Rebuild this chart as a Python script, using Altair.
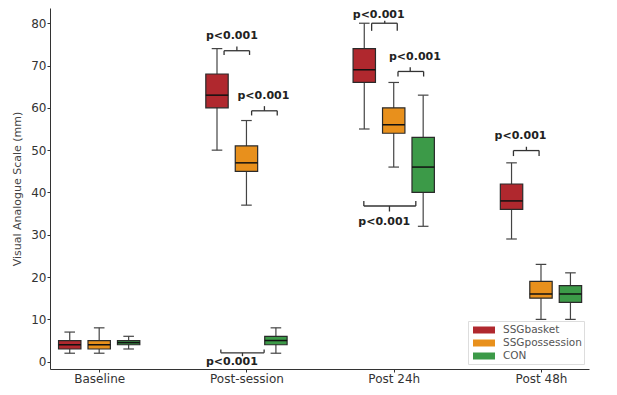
import altair as alt
import pandas as pd

# ---- data ----
timepoints = ["Baseline", "Post-session", "Post 24h", "Post 48h"]
groups = ["SSGbasket", "SSGpossession", "CON"]
colors = ["#B0282E", "#E8901C", "#3C9A48"]

# per group, per timepoint: [whisker low, q1, median, q3, whisker high]
basket = [[2, 3, 4, 5, 7], [50, 60, 63, 68, 74], [55, 66, 69, 74, 80], [29, 36, 38, 42, 47]]
possession = [[2, 3, 4, 5, 8], [37, 45, 47, 51, 57], [46, 54, 56, 60, 66], [10, 15, 16, 19, 23]]
con = [[3, 4, 4.5, 5, 6], [2, 4, 5, 6, 8], [32, 40, 46, 53, 63], [10, 14, 16, 18, 21]]

group_offsets = [-0.2, 0.0, 0.2]

# significance brackets
br_x1 = [0.848, 1.035, 0.826, 1.850, 2.029, 1.797, 2.813]
br_x2 = [1.021, 1.209, 1.120, 2.024, 2.203, 2.150, 2.987]
br_xm = [0.935, 1.122, 0.973, 1.939, 2.112, 1.971, 2.901]
br_y = [73.5, 59.3, 2.1, 80.0, 68.6, 36.8, 49.9]
br_yend = [72.5, 58.2, 2.9, 78.2, 67.4, 38.0, 48.6]
br_ymid = [74.5, 60.4, 1.3, 80.6, 69.6, 35.5, 50.8]
lab_x = [0.901, 1.115, 0.901, 1.898, 2.144, 1.936, 2.861]
lab_y = [77.0, 62.9, 0.0, 82.0, 72.1, 33.1, 53.4]
lab_text = ["p<0.001"] * 7

# ---- build tables ----
rows = []
for g, (name, vals) in enumerate(zip(groups, [basket, possession, con])):
    for t, v in enumerate(vals):
        pos = t + group_offsets[g]
        rows.append(dict(group=name, pos=pos, lo=v[0], q1=v[1], med=v[2], q3=v[3], hi=v[4],
                         bx1=pos - 0.076, bx2=pos + 0.076, cx1=pos - 0.036, cx2=pos + 0.036))
df = pd.DataFrame(rows)

brk = pd.DataFrame(dict(x1=br_x1, x2=br_x2, xm=br_xm, y=br_y, yend=br_yend, ymid=br_ymid))
labs = pd.DataFrame(dict(x=lab_x, y=lab_y, text=lab_text))

xscale = alt.Scale(domain=[-0.334, 3.326], nice=False, zero=False)
yscale = alt.Scale(domain=[-1.73, 83.6], nice=False, zero=False)
cscale = alt.Scale(domain=groups, range=colors)

label_expr = "datum.value == 0 ? 'Baseline' : datum.value == 1 ? 'Post-session' : datum.value == 2 ? 'Post 24h' : 'Post 48h'"

xaxis = alt.Axis(values=[0, 1, 2, 3], labelExpr=label_expr, title=None, grid=False,
                 labelFont="DejaVu Sans", labelFontSize=12, labelColor="#333", tickSize=3,
                 domainColor="#333", tickColor="#333", labelPadding=1, labelOverlap=False)
yaxis = alt.Axis(values=[0, 10, 20, 30, 40, 50, 60, 70, 80], title="Visual Analogue Scale (mm)",
                 grid=False, labelFont="DejaVu Sans", labelFontSize=12, labelColor="#333",
                 titleFont="DejaVu Sans", titleFontSize=11, titleFontWeight="normal",
                 titleColor="#444", tickSize=3, domainColor="#333", tickColor="#333",
                 labelPadding=1, titlePadding=8)

base = alt.Chart(df)

whisk = base.mark_rule(color="#444", strokeWidth=1.2).encode(
    x=alt.X("pos:Q", scale=xscale, axis=xaxis),
    y=alt.Y("lo:Q", scale=yscale, axis=yaxis),
    y2="hi:Q",
)
cap_lo = base.mark_rule(color="#444", strokeWidth=1.2).encode(
    x=alt.X("cx1:Q", scale=xscale), x2="cx2:Q", y=alt.Y("lo:Q", scale=yscale))
cap_hi = base.mark_rule(color="#444", strokeWidth=1.2).encode(
    x=alt.X("cx1:Q", scale=xscale), x2="cx2:Q", y=alt.Y("hi:Q", scale=yscale))
box = base.mark_rect(stroke="#2a2a2a", strokeWidth=1.2, opacity=1).encode(
    x=alt.X("bx1:Q", scale=xscale), x2="bx2:Q",
    y=alt.Y("q1:Q", scale=yscale), y2="q3:Q",
    color=alt.Color("group:N", scale=cscale, sort=groups, title=None,
                    legend=alt.Legend(orient="none", legendX=418, legendY=313,
                                      symbolType="M-0.57,-0.5H2.57V0.5H-0.57Z", symbolSize=196,
                                      symbolStrokeWidth=0, labelFont="DejaVu Sans",
                                      labelFontSize=10.5, labelColor="#555", labelOffset=19,
                                      strokeColor="#ddd", fillColor="white", padding=2,
                                      rowPadding=0, symbolOpacity=1)),
)
med = base.mark_rule(color="#111", strokeWidth=1.5).encode(
    x=alt.X("bx1:Q", scale=xscale), x2="bx2:Q", y=alt.Y("med:Q", scale=yscale))

bb = alt.Chart(brk)
bar_h = bb.mark_rule(color="#333", strokeWidth=1.3).encode(
    x=alt.X("x1:Q", scale=xscale), x2="x2:Q", y=alt.Y("y:Q", scale=yscale))
bar_l = bb.mark_rule(color="#333", strokeWidth=1.3).encode(
    x=alt.X("x1:Q", scale=xscale), y=alt.Y("y:Q", scale=yscale), y2="yend:Q")
bar_r = bb.mark_rule(color="#333", strokeWidth=1.3).encode(
    x=alt.X("x2:Q", scale=xscale), y=alt.Y("y:Q", scale=yscale), y2="yend:Q")
bar_m = bb.mark_rule(color="#333", strokeWidth=1.3).encode(
    x=alt.X("xm:Q", scale=xscale), y=alt.Y("y:Q", scale=yscale), y2="ymid:Q")

txt = alt.Chart(labs).mark_text(font="DejaVu Sans", fontSize=11, fontWeight="bold",
                                color="#222").encode(
    x=alt.X("x:Q", scale=xscale), y=alt.Y("y:Q", scale=yscale), text="text:N")

chart = alt.layer(whisk, cap_lo, cap_hi, box, med, bar_h, bar_l, bar_r, bar_m, txt).properties(
    width=539, height=361,
    autosize=alt.AutoSizeParams(type="none"),
    padding={"left": 42, "top": 0, "right": 20, "bottom": 24},
    background="white",
).configure_view(strokeWidth=0, stroke=None)

chart.save("out.html", embed_options={"renderer": "svg", "actions": False})
